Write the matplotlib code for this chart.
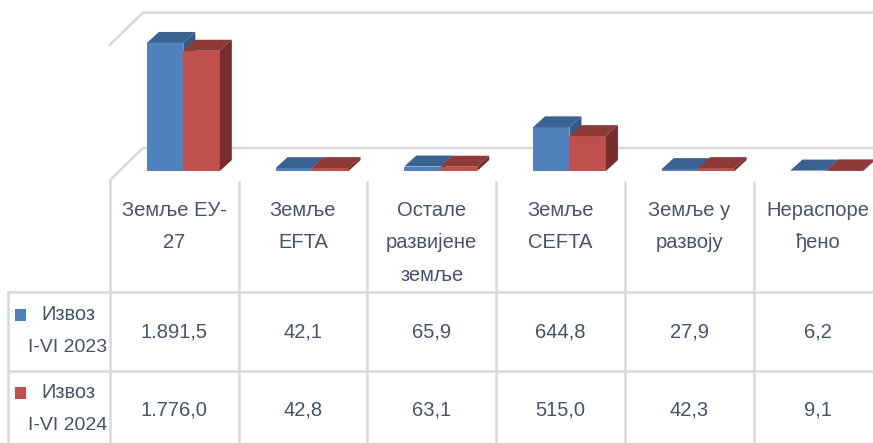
import matplotlib.pyplot as plt
from matplotlib.patches import Polygon

# Подаци
kategorije = ["Земље ЕУ-\n27", "Земље\nEFTA", "Остале\nразвијене\nземље",
              "Земље\nCEFTA", "Земље у\nразвоју", "Нераспоре\nђено"]
izvoz_2023 = [1891.5, 42.1, 65.9, 644.8, 27.9, 6.2]
izvoz_2024 = [1776.0, 42.8, 63.1, 515.0, 42.3, 9.1]
serije = ["Извоз\nI-VI 2023", "Извоз\nI-VI 2024"]

plt.rcParams["font.family"] = ["Liberation Sans Narrow", "Liberation Sans", "DejaVu Sans"]

W, H = 873, 443
boja_teksta = "#44546a"
boja_linija = "#d9d9d9"
boje = [("#4f81bd", "#3c6291", "#355985"), ("#c0504d", "#8e3a38", "#772d2b")]


def fmt(v):
    s = f"{v:,.1f}"
    return s.replace(",", "X").replace(".", ",").replace("X", ".")


fig = plt.figure(figsize=(W / 100, H / 100), dpi=100)

# Tabela (pikseli)
tab = fig.add_axes([0, 0, 1, 1], zorder=0)
tab.set_xlim(0, W)
tab.set_ylim(H, 0)
tab.axis("off")

col0, colw = 110, 128.7
lw = 1.8
tab.plot([col0, col0], [180, H], color=boja_linija, lw=lw)
for k in range(1, len(kategorije) + 1):
    x = col0 + k * colw
    tab.plot([x, x], [182, H], color=boja_linija, lw=lw)
tab.plot([8, 8], [292, H], color=boja_linija, lw=lw)
for y in [292, 371]:
    tab.plot([8, W], [y, y], color=boja_linija, lw=lw)

fs = 14.5
for i, naziv in enumerate(kategorije):
    cx = col0 + (i + 0.5) * colw
    for j, red in enumerate(naziv.split("\n")):
        tab.text(cx, 210 + j * 32.5, red, ha="center", va="center",
                 fontsize=fs, color=boja_teksta)

for r, (vrednosti, naziv) in enumerate(zip([izvoz_2023, izvoz_2024], serije)):
    y0 = 332 + r * 78
    for i, v in enumerate(vrednosti):
        cx = col0 + (i + 0.5) * colw
        tab.text(cx, y0, fmt(v), ha="center", va="center",
                 fontsize=fs, color=boja_teksta)
    redovi = naziv.split("\n")
    tab.text(68, y0 - 17, redovi[0], ha="center", va="center", fontsize=fs, color=boja_teksta)
    tab.text(68, y0 + 16, redovi[1], ha="center", va="center", fontsize=14, color=boja_teksta)
    tab.add_patch(Polygon([(15, y0 - 23), (26, y0 - 23), (26, y0 - 11), (15, y0 - 11)],
                          closed=True, color=boje[r][0], lw=0))

# 3D стубици
ppu = 0.0677          # piksela po jedinici
left_px, base_px = 119, 171
ax = fig.add_axes([left_px / W, (H - base_px) / H, 6 * colw / W, 2000 * ppu / H], zorder=1)
ax.set_xlim(-0.5, 5.5)
ax.set_ylim(0, 2000)
ax.axis("off")
ax.patch.set_alpha(0)

dx = 12 / colw
dy = 11 / ppu
w = 36.5 / colw

# mreža na zadnjem zidu
xf = -0.5 + (col0 - left_px) / colw
for v in [0, 2000]:
    ax.plot([xf, xf + 33 / colw, 6.5], [v - 9 / ppu, v + 23 / ppu, v + 23 / ppu],
            color=boja_linija, lw=lw, clip_on=False, zorder=0,
            solid_joinstyle="miter")

for i in range(len(kategorije)):
    for s, vrednosti in enumerate([izvoz_2023, izvoz_2024]):
        v = vrednosti[i]
        x0 = i - w + s * w
        front, top, side = boje[s]
        ax.bar(x0, v, width=w, align="edge", color=front, lw=0, clip_on=False, zorder=2)
        ax.add_patch(Polygon([(x0, v), (x0 + dx, v + dy), (x0 + w + dx, v + dy), (x0 + w, v)],
                             closed=True, color=top, lw=0, clip_on=False, zorder=2))
        ax.add_patch(Polygon([(x0 + w, 0), (x0 + w + dx, dy), (x0 + w + dx, v + dy), (x0 + w, v)],
                             closed=True, color=side, lw=0, clip_on=False, zorder=1.5 + s))

fig.savefig("out.png", dpi=100)
